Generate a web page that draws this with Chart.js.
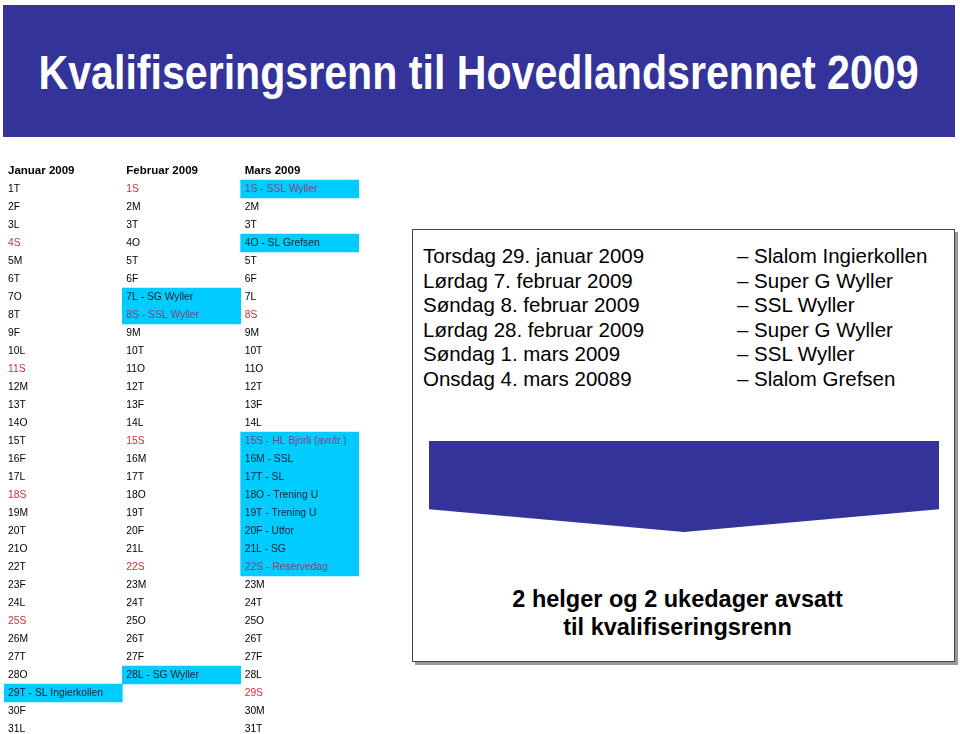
<!DOCTYPE html>
<html>
<head>
<meta charset="utf-8">
<script src="https://cdn.jsdelivr.net/npm/chart.js@4"></script>
<style>
  html, body { margin: 0; padding: 0; background: #fff; width: 960px; height: 734px; overflow: hidden; }
  body { position: relative; font-family: 'Liberation Sans', Arial, sans-serif; }
  #banner { position: absolute; left: 3px; top: 5px; width: 952px; height: 132px; background: #333399; overflow: hidden; }
  #title { position: absolute; left: 0; top: 40px; color: #fff; white-space: nowrap;
           font: bold 48px 'Liberation Sans Narrow', 'Liberation Sans', Arial, sans-serif; line-height: 56px;
           transform-origin: center; }
  #cal { position: absolute; left: 4px; top: 162px; }
  #box { position: absolute; left: 412px; top: 229px; width: 541px; height: 431px; border: 1px solid #444;
         box-shadow: 3px 3px 0 #9a9a9a; background: #fff; }
  .line { position: absolute; font-size: 20.5px; line-height: 24px; color: #000; white-space: nowrap; }
  #arrow { position: absolute; left: 429px; top: 441px; width: 510px; height: 91px; background: #333399;
           clip-path: polygon(0 0, 100% 0, 100% 75%, 50% 100%, 0 75%); }
  #note { position: absolute; left: 406px; top: 585px; width: 543px; text-align: center; font-weight: bold;
          font-size: 23.5px; line-height: 28px; color: #000; }
</style>
</head>
<body>
<div id="banner"><span id="title">Kvalifiseringsrenn til Hovedlandsrennet 2009</span></div>
<div id="box"></div>
<div id="races"></div>
<div id="arrow"></div>
<div id="note">2 helger og 2 ukedager avsatt<br>til kvalifiseringsrenn</div>
<canvas id="cal" width="355" height="576"></canvas>
<script>
// month headers
const months = ['Januar 2009', 'Februar 2009', 'Mars 2009'];

// rows of the table: header row + day 1..31
const rows = ['hdr', '1', '2', '3', '4', '5', '6', '7', '8', '9', '10', '11', '12', '13', '14', '15', '16',
  '17', '18', '19', '20', '21', '22', '23', '24', '25', '26', '27', '28', '29', '30', '31'];

const janDays = ['1T', '2F', '3L', '4S', '5M', '6T', '7O', '8T', '9F', '10L', '11S', '12M', '13T', '14O', '15T', '16F',
  '17L', '18S', '19M', '20T', '21O', '22T', '23F', '24L', '25S', '26M', '27T', '28O', '29T', '30F', '31L'];
const febDays = ['1S', '2M', '3T', '4O', '5T', '6F', '7L', '8S', '9M', '10T', '11O', '12T', '13F', '14L', '15S', '16M',
  '17T', '18O', '19T', '20F', '21L', '22S', '23M', '24T', '25O', '26T', '27F', '28L'];
const marDays = ['1S', '2M', '3T', '4O', '5T', '6F', '7L', '8S', '9M', '10T', '11O', '12T', '13F', '14L', '15S', '16M',
  '17T', '18O', '19T', '20F', '21L', '22S', '23M', '24T', '25O', '26T', '27F', '28L', '29S', '30M', '31T'];
const allDays = [janDays, febDays, marDays];

// highlighted (cyan) days: month column, day, text
const eventMonth = [0, 1, 1, 1, 2, 2, 2, 2, 2, 2, 2, 2, 2, 2];
const eventDay = [29, 7, 8, 28, 1, 4, 15, 16, 17, 18, 19, 20, 21, 22];
const eventText = ['SL Ingierkollen', 'SG Wyller', 'SSL Wyller', 'SG Wyller', 'SSL Wyller', 'SL Grefsen',
  'HL Bjorli (avr/tr.)', 'SSL', 'SL', 'Trening U', 'Trening U', 'Utfor', 'SG', 'Reservedag'];

// list on the right
const raceDates = ['Torsdag 29. januar 2009', 'Lørdag 7. februar 2009', 'Søndag 8. februar 2009',
  'Lørdag 28. februar 2009', 'Søndag 1. mars 2009', 'Onsdag 4. mars 20089'];
const raceNames = ['– Slalom Ingierkollen', '– Super G Wyller', '– SSL Wyller', '– Super G Wyller',
  '– SSL Wyller', '– Slalom Grefsen'];

const races = document.getElementById('races');
raceDates.forEach((d, i) => {
  const a = document.createElement('div');
  a.className = 'line';
  a.style.left = '423px';
  a.style.top = (244 + i * 24.5) + 'px';
  a.textContent = d;
  races.appendChild(a);
  const b = document.createElement('div');
  b.className = 'line';
  b.style.left = '737px';
  b.style.top = (244 + i * 24.5) + 'px';
  b.textContent = raceNames[i];
  races.appendChild(b);
});

// squeeze the title to the width of the original, centred on it
const t = document.getElementById('title');
const tw = t.offsetWidth;
t.style.left = (475 - tw / 2) + 'px';
t.style.transform = 'scaleX(' + (880 / tw) + ')';

const cellLabels = {
  id: 'cellLabels',
  afterDatasetsDraw(chart) {
    const ctx = chart.ctx;
    const xs = chart.scales.x, ys = chart.scales.y;
    ctx.save();
    ctx.textBaseline = 'middle';
    ctx.textAlign = 'left';
    months.forEach((m, c) => {
      const x0 = xs.getPixelForValue(c) + 4;
      ctx.font = 'bold 11.5px "Liberation Sans", Arial, sans-serif';
      ctx.fillStyle = '#000';
      ctx.fillText(m, x0, ys.getPixelForValue(0));
      ctx.font = '10.3px "Liberation Sans", Arial, sans-serif';
      allDays[c].forEach((d, i) => {
        const day = i + 1;
        let txt = d;
        let hit = false;
        for (let k = 0; k < eventDay.length; k++) {
          if (eventMonth[k] === c && eventDay[k] === day) { txt = d + ' - ' + eventText[k]; hit = true; }
        }
        if (d.endsWith('S')) ctx.fillStyle = hit ? '#8a3f78' : '#c8303a';
        else ctx.fillStyle = hit ? '#102030' : '#000';
        ctx.fillText(txt, x0, ys.getPixelForValue(day) + 0.5);
      });
    });
    ctx.restore();
  }
};

new Chart(document.getElementById('cal'), {
  type: 'bar',
  data: {
    labels: rows,
    datasets: [{
      data: eventDay.map((d, k) => ({ x: [eventMonth[k], eventMonth[k] + 1], y: rows[d] })),
      backgroundColor: '#00ccff',
      borderWidth: 0,
      categoryPercentage: 1,
      barPercentage: 1
    }]
  },
  options: {
    indexAxis: 'y',
    responsive: false,
    animation: false,
    layout: { padding: 0 },
    plugins: { legend: { display: false }, tooltip: { enabled: false } },
    scales: {
      x: { type: 'linear', min: 0, max: 3, display: false },
      y: { type: 'category', display: false }
    }
  },
  plugins: [cellLabels]
});
</script>
</body>
</html>
